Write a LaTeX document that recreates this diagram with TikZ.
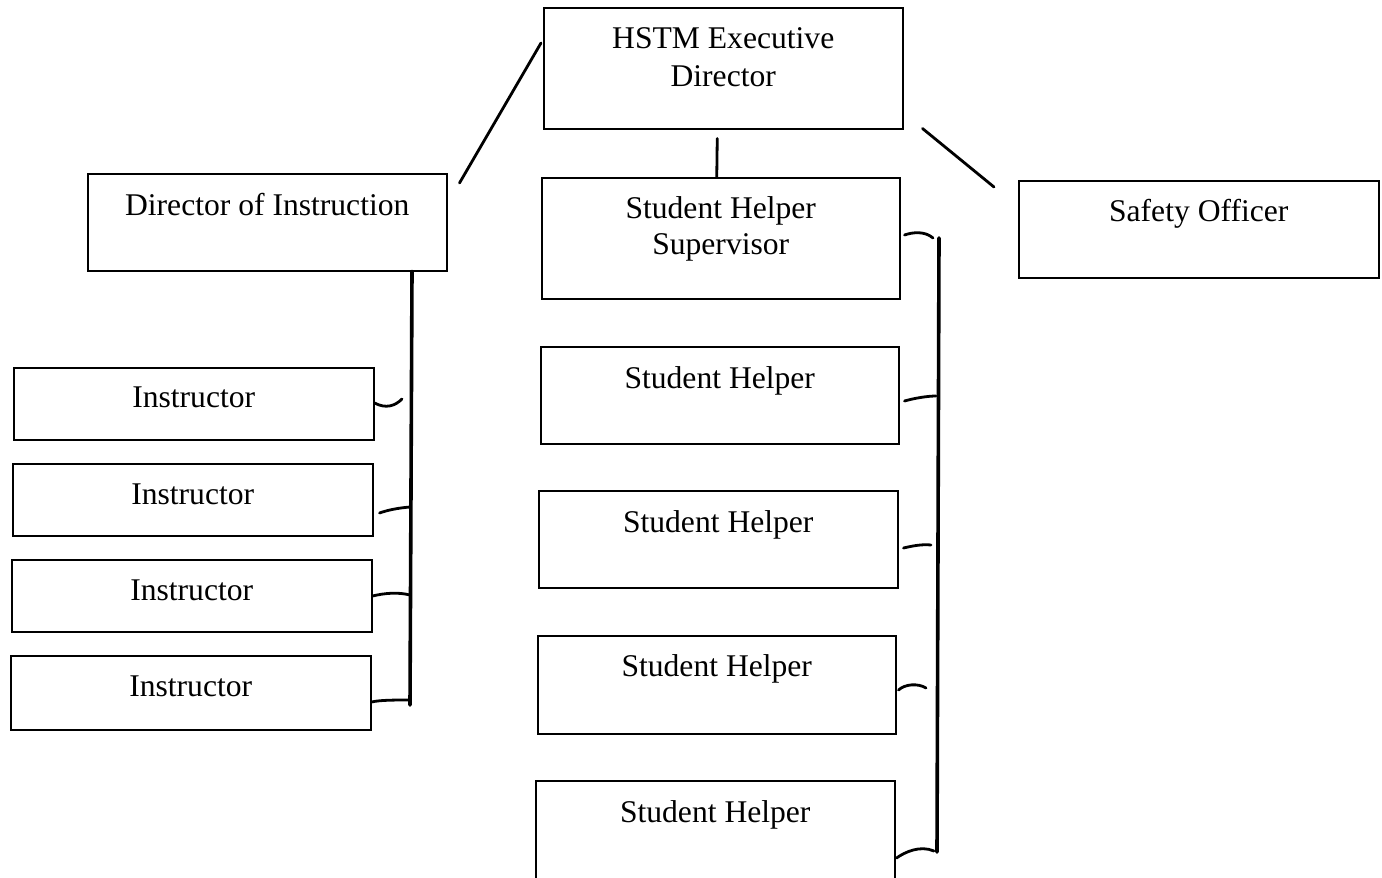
\documentclass[tikz,border=0pt]{standalone}
\usepackage{fontspec}
\setmainfont{Liberation Serif}
\begin{document}
\begin{tikzpicture}[x=0.5pt,y=-0.5pt,
  box/.style={draw, line width=0.75pt, inner sep=0pt, anchor=north west},
  lbl/.style={anchor=base, inner sep=0pt, font=\fontsize{15.8}{18.5}\selectfont},
  conn/.style={line width=1.4pt, line cap=round},
  bar/.style={line width=1.8pt, line cap=round}]
\useasboundingbox[fill=white] (0,0) rectangle (1382,878);
% boxes
\node[box, minimum width=179.5pt, minimum height=60.5pt] (exec) at (543,7) {};
\node[box, minimum width=179.5pt, minimum height=48.5pt] (doi) at (87,173) {};
\node[box, minimum width=180pt, minimum height=48.5pt] (safety) at (1018,180) {};
\node[box, minimum width=179pt, minimum height=60.5pt] (sup) at (541,177) {};
\node[box, minimum width=179pt, minimum height=48.5pt] (sh1) at (540,346) {};
\node[box, minimum width=179.5pt, minimum height=48.5pt] (sh2) at (538,490) {};
\node[box, minimum width=179pt, minimum height=49pt] (sh3) at (537,635) {};
\node[box, minimum width=179.5pt, minimum height=49pt] (sh4) at (535,780) {};
\node[box, minimum width=180pt, minimum height=36pt] (i1) at (13,367) {};
\node[box, minimum width=180pt, minimum height=36pt] (i2) at (12,463) {};
\node[box, minimum width=180pt, minimum height=36pt] (i3) at (11,559) {};
\node[box, minimum width=180pt, minimum height=37pt] (i4) at (10,655) {};
% labels
\node[lbl] (exec-a) at ([yshift=-20.5pt]exec.north) {HSTM Executive};
\node[lbl] (exec-b) at ([yshift=-39.5pt]exec.north) {Director};
\node[lbl] (doi-t) at ([yshift=-21pt]doi.north) {Director of Instruction};
\node[lbl] (safety-t) at ([yshift=-20.5pt]safety.north) {Safety Officer};
\node[lbl] (sup-a) at ([yshift=-20.5pt]sup.north) {Student Helper};
\node[lbl] (sup-b) at ([yshift=-38.5pt]sup.north) {Supervisor};
\node[lbl] (sh1-t) at ([yshift=-21pt]sh1.north) {Student Helper};
\node[lbl] (sh2-t) at ([yshift=-21pt]sh2.north) {Student Helper};
\node[lbl] (sh3-t) at ([yshift=-20.5pt]sh3.north) {Student Helper};
\node[lbl] (sh4-t) at ([yshift=-21pt]sh4.north) {Student Helper};
\node[lbl] (i1-t) at ([yshift=-20pt]i1.north) {Instructor};
\node[lbl] (i2-t) at ([yshift=-20.5pt]i2.north) {Instructor};
\node[lbl] (i3-t) at ([yshift=-20.5pt]i3.north) {Instructor};
\node[lbl] (i4-t) at ([yshift=-20.5pt]i4.north) {Instructor};
% top connectors
\draw[conn] ([shift={(12,10)}]doi.north east) -- ([shift={(-2,36)}]exec.north west);
\draw[conn] ([shift={(19,-1)}]exec.south east) -- ([shift={(-24,7)}]safety.north west);
\draw[conn] ([shift={(-6,9)}]exec.south) -- ([shift={(-4,0)}]sup.north);
% left bracket
\coordinate (lb) at (410,705);
\coordinate (l1) at (402,399);
\coordinate (l2) at (410,507);
\coordinate (l3) at (410,595);
\coordinate (l4) at (410,700);
\draw[bar] (doi.south -| 412,0) -- (lb);
\draw[conn] ([yshift=-18pt]i1.north east) .. controls (386,409) and (395,406) .. (l1);
\draw[conn] ([shift={(6,-25pt)}]i2.north east) .. controls (388,510) and (398,508) .. (l2);
\draw[conn] ([yshift=-18.5pt]i3.north east) .. controls (385,593) and (398,592) .. (l3);
\draw[conn] ([yshift=-23.5pt]i4.north east) .. controls (380,700) and (395,700) .. (l4);
% right bracket
\coordinate (rt) at (939,238);
\coordinate (rb) at (937,852);
\coordinate (r0) at (933,238);
\coordinate (r1) at (936,396);
\coordinate (r2) at (931,545);
\coordinate (r3) at (926,688);
\coordinate (r4) at (934,851);
\draw[bar] (rt) -- (rb);
\draw[conn] ([shift={(4,-29pt)}]sup.north east) .. controls (913,232) and (925,231) .. (r0);
\draw[conn] ([shift={(5,-27.5pt)}]sh1.north east) .. controls (915,398) and (928,396) .. (r1);
\draw[conn] ([shift={(5,-29pt)}]sh2.north east) .. controls (912,546) and (922,544) .. (r2);
\draw[conn] ([shift={(2,-27.5pt)}]sh3.north east) .. controls (905,684) and (918,683) .. (r3);
\draw[conn] ([shift={(1,-39pt)}]sh4.north east) .. controls (905,852) and (920,845) .. (r4);
\end{tikzpicture}
\end{document}
